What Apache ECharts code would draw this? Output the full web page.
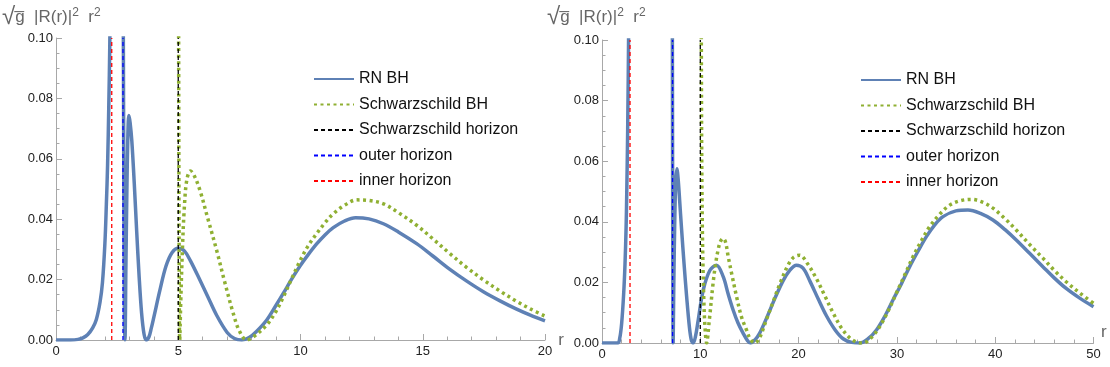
<!DOCTYPE html>
<html>
<head>
<meta charset="utf-8">
<script src="https://cdn.jsdelivr.net/npm/echarts@6/dist/echarts.min.js"></script>
<style>
  html, body { margin: 0; padding: 0; background: #fff; }
  #chart { width: 1110px; height: 367px; }
</style>
</head>
<body>
<div id="chart"></div>
<script>
// values: [r, sqrt(g)|R|^2 r^2]
const rnLeft = [[0,0],[0.6,0],[0.9,0.0002],[1.1,0.0007],[1.3,0.0018],[1.5,0.004],[1.65,0.0068],[1.8,0.0125],[1.9,0.019],[2.0,0.032],[2.06,0.045],[2.11,0.058],[2.16,0.078],[2.2,0.098],[2.24,0.13],[2.3,0.2],[2.68,0.2],[2.74,0.13],[2.77,0.06],[2.8,0.005],[2.82,0],[2.86,0.025],[2.9,0.05],[2.94,0.068],[2.98,0.0743],[3.03,0.072],[3.1,0.066],[3.2,0.052],[3.3,0.036],[3.4,0.021],[3.5,0.009],[3.6,0.002],[3.69,0],[3.8,0.001],[3.9,0.004],[4.0,0.0075],[4.25,0.0165],[4.5,0.0245],[4.75,0.029],[5.0,0.0304],[5.25,0.0295],[5.5,0.0262],[5.9,0.0196],[6.2,0.0145],[6.57,0.0082],[7.0,0.0025],[7.3,0.0005],[7.6,0],[7.9,0.0008],[8.2,0.0028],[8.62,0.0066],[9.0,0.0115],[9.3,0.0155],[9.65,0.0203],[9.98,0.0245],[10.3,0.0281],[10.66,0.0318],[11.0,0.0348],[11.34,0.0372],[11.8,0.0394],[12.25,0.0405],[12.8,0.0401],[13.39,0.0385],[14.0,0.0358],[14.75,0.0319],[15.4,0.0279],[16.11,0.0234],[16.8,0.0195],[17.48,0.016],[18.2,0.0128],[18.84,0.0102],[19.4,0.0082],[20,0.0063]]
const schLeft = [[5.0,0.2],[5.02,0.08],[5.04,0.02],[5.06,0],[5.1,0.012],[5.17,0.03],[5.25,0.044],[5.35,0.053],[5.5,0.056],[5.65,0.0545],[5.89,0.0495],[6.2,0.0405],[6.57,0.0297],[6.9,0.0192],[7.25,0.0088],[7.5,0.003],[7.8,0],[8.1,0.0012],[8.62,0.005],[9.0,0.0095],[9.3,0.0143],[9.65,0.0205],[9.98,0.0262],[10.3,0.031],[10.66,0.0352],[11.0,0.0388],[11.34,0.0418],[11.8,0.0446],[12.3,0.0464],[12.8,0.0462],[13.39,0.0451],[14.0,0.0422],[14.75,0.038],[15.4,0.0336],[16.11,0.0286],[16.8,0.024],[17.48,0.0199],[18.2,0.016],[18.84,0.0128],[19.4,0.0103],[20,0.0079]]
const rnRight = [[0,0],[1.6,0],[1.8,0.0015],[2.0,0.0065],[2.2,0.016],[2.34,0.026],[2.45,0.038],[2.51,0.048],[2.61,0.07],[2.71,0.103],[2.8,0.15],[2.9,0.2],[7.1,0.2],[7.16,0.1],[7.2,0.03],[7.24,0],[7.3,0.018],[7.4,0.04],[7.5,0.053],[7.62,0.0575],[7.75,0.054],[7.9,0.047],[8.1,0.0373],[8.35,0.026],[8.61,0.0153],[8.9,0.005],[9.1,0.0008],[9.28,0],[9.5,0.002],[9.79,0.0076],[10.3,0.0175],[10.98,0.024],[11.65,0.0257],[12.33,0.0219],[12.85,0.016],[13.34,0.0109],[13.85,0.0065],[14.36,0.0032],[14.8,0.0008],[15.1,0],[15.6,0.0012],[16.0,0.003],[16.74,0.0082],[17.6,0.0148],[18.43,0.0206],[19.1,0.024],[19.78,0.0257],[20.45,0.0247],[21.14,0.0205],[22.0,0.0145],[22.83,0.009],[23.7,0.0044],[24.53,0.0014],[25.4,0.0002],[26.22,0],[27.1,0.0015],[27.92,0.0043],[28.8,0.009],[29.6,0.0142],[30.45,0.0195],[31.3,0.0252],[32.15,0.0303],[33.0,0.0351],[33.85,0.039],[34.69,0.0417],[36.0,0.0436],[37.23,0.0439],[38.5,0.0428],[39.77,0.0406],[41.0,0.0374],[42.14,0.034],[43.5,0.0296],[44.85,0.0252],[46.0,0.0215],[47.22,0.018],[48.6,0.0148],[50,0.012]]
const schRight = [[10.05,0.2],[10.12,0.08],[10.2,0.04],[10.35,0.015],[10.5,0.004],[10.64,0],[10.9,0.007],[11.3,0.0197],[11.55,0.026],[11.81,0.0307],[12.05,0.0335],[12.3,0.0345],[12.55,0.0335],[12.84,0.0285],[13.25,0.022],[13.69,0.0153],[14.2,0.0085],[14.7,0.0043],[15.1,0.0012],[15.55,0],[16.0,0.0015],[16.74,0.0078],[17.4,0.0135],[18.09,0.0195],[18.94,0.0258],[19.5,0.0283],[20.12,0.029],[20.9,0.0262],[21.82,0.0212],[22.6,0.016],[23.5,0.01],[24.35,0.005],[25.2,0.0017],[25.9,0.0003],[26.56,0],[27.4,0.0018],[28.25,0.0054],[29.1,0.0105],[29.94,0.0164],[30.8,0.0225],[31.64,0.0285],[32.5,0.0338],[33.33,0.0384],[34.35,0.0425],[35.37,0.0455],[36.5,0.047],[37.57,0.0474],[38.7,0.0465],[39.77,0.0445],[41.0,0.041],[42.14,0.0373],[43.5,0.0325],[44.85,0.028],[46.0,0.024],[47.22,0.0202],[48.6,0.0165],[50,0.0131]]

// horizon positions per panel [left, right]
const schwHorizon = [5, 10]
const outerHorizon = [2.74, 7.18]
const innerHorizon = [2.28, 2.85]

const xMax = [20, 50]
const xStep = [5, 10]
const yTicks = [0, 0.02, 0.04, 0.06, 0.08, 0.1]
const names = ['RN BH', 'Schwarzschild BH', 'Schwarzschild horizon', 'outer horizon', 'inner horizon']

const font = 'Liberation Sans, Arial, sans-serif'
const axisGrey = '#a8a8a8'
const titleGrey = '#666'
const yTitle = '{rad|√}{t|g\u0305  |R(r)|}{sup|2}{t|  r}{sup|2}'

const chart = echarts.init(document.getElementById('chart'))

function vline(x, top) {
  return [[x, 0], [x, top]]
}

function makeXAxis(i) {
  return {
    type: 'value',
    gridIndex: i,
    min: 0,
    max: xMax[i],
    interval: xStep[i],
    // right panel's "r" sits higher, drawn as a title below
    name: i === 0 ? 'r' : '',
    nameLocation: 'end',
    nameGap: -4,
    nameTextStyle: { color: titleGrey, fontSize: 17, fontFamily: font },
    axisLine: { show: true, lineStyle: { color: axisGrey, width: 1 } },
    axisTick: { show: true, inside: true, length: 6, lineStyle: { color: axisGrey } },
    minorTick: { show: true, splitNumber: 5, length: 3.5, lineStyle: { color: axisGrey } },
    axisLabel: { margin: 5, color: '#222', fontSize: 13, fontFamily: font },
    splitLine: { show: false }
  }
}

function makeYAxis(i) {
  return {
    type: 'value',
    gridIndex: i,
    min: yTicks[0],
    max: yTicks[yTicks.length - 1],
    interval: 0.02,
    axisLine: { show: true, onZero: false, lineStyle: { color: axisGrey, width: 1 } },
    axisTick: { show: true, inside: true, length: 6, lineStyle: { color: axisGrey } },
    minorTick: { show: true, splitNumber: 4, length: 3.5, lineStyle: { color: axisGrey } },
    axisLabel: { margin: 3, color: '#222', fontSize: 13, fontFamily: font, formatter: v => v.toFixed(2) },
    splitLine: { show: false }
  }
}

function makeSeries(i, rn, sch) {
  const top = yTicks[yTicks.length - 1]
  const base = { type: 'line', xAxisIndex: i, yAxisIndex: i, symbol: 'none', showSymbol: false, clip: true, silent: true, animation: false }
  return [
    Object.assign({}, base, {
      name: names[0], data: rn, smooth: 0.35,
      lineStyle: { color: '#5e81b5', width: 3.5 }, itemStyle: { color: '#5e81b5' }
    }),
    Object.assign({}, base, {
      name: names[1], data: sch, smooth: 0.35,
      lineStyle: { color: '#8fb032', width: 3.5, type: [3, 3.5], cap: 'butt' }, itemStyle: { color: '#8fb032' }
    }),
    Object.assign({}, base, {
      name: names[2], data: vline(schwHorizon[i], top),
      lineStyle: { color: '#000', width: 1.3, type: [4, 3] }, itemStyle: { color: '#000' }
    }),
    Object.assign({}, base, {
      name: names[3], data: vline(outerHorizon[i], top),
      lineStyle: { color: '#0000ff', width: 1.3, type: [4, 3] }, itemStyle: { color: '#0000ff' }
    }),
    Object.assign({}, base, {
      name: names[4], data: vline(innerHorizon[i], top),
      lineStyle: { color: '#ff0000', width: 1.3, type: [4, 3] }, itemStyle: { color: '#ff0000' }
    })
  ]
}

function makeLegend(left, top) {
  return {
    data: names,
    orient: 'vertical',
    left: left,
    top: top,
    itemWidth: 40,
    itemHeight: 14,
    itemGap: 7.5,
    selectedMode: false,
    itemStyle: { opacity: 0 },
    textStyle: { color: '#111', fontSize: 16, fontFamily: font, lineHeight: 18 }
  }
}

function makeTitle(left) {
  return {
    text: yTitle,
    left: left,
    top: 4,
    padding: 0,
    textStyle: {
      fontWeight: 'normal',
      rich: {
        rad: { fontSize: 24, color: titleGrey, fontFamily: font, fontWeight: 'normal', lineHeight: 26 },
        t: { fontSize: 17, color: titleGrey, fontFamily: font, fontWeight: 'normal', lineHeight: 26 },
        sup: { fontSize: 12, color: titleGrey, fontFamily: font, fontWeight: 'normal', lineHeight: 26, padding: [0, 0, 8, 0] }
      }
    }
  }
}

const option = {
  animation: false,
  title: [
    makeTitle(2),
    makeTitle(547),
    { text: 'r', left: 1101, top: 324, padding: 0, textStyle: { color: titleGrey, fontSize: 17, fontFamily: font, fontWeight: 'normal' } }
  ],
  legend: [makeLegend(308, 65), makeLegend(855, 66)],
  grid: [
    { left: 56, right: 565, top: 38, bottom: 27 },
    { left: 602, right: 16.5, top: 40, bottom: 24 }
  ],
  xAxis: [makeXAxis(0), makeXAxis(1)],
  yAxis: [makeYAxis(0), makeYAxis(1)],
  series: makeSeries(0, rnLeft, schLeft).concat(makeSeries(1, rnRight, schRight))
}

chart.setOption(option)
</script>
</body>
</html>
